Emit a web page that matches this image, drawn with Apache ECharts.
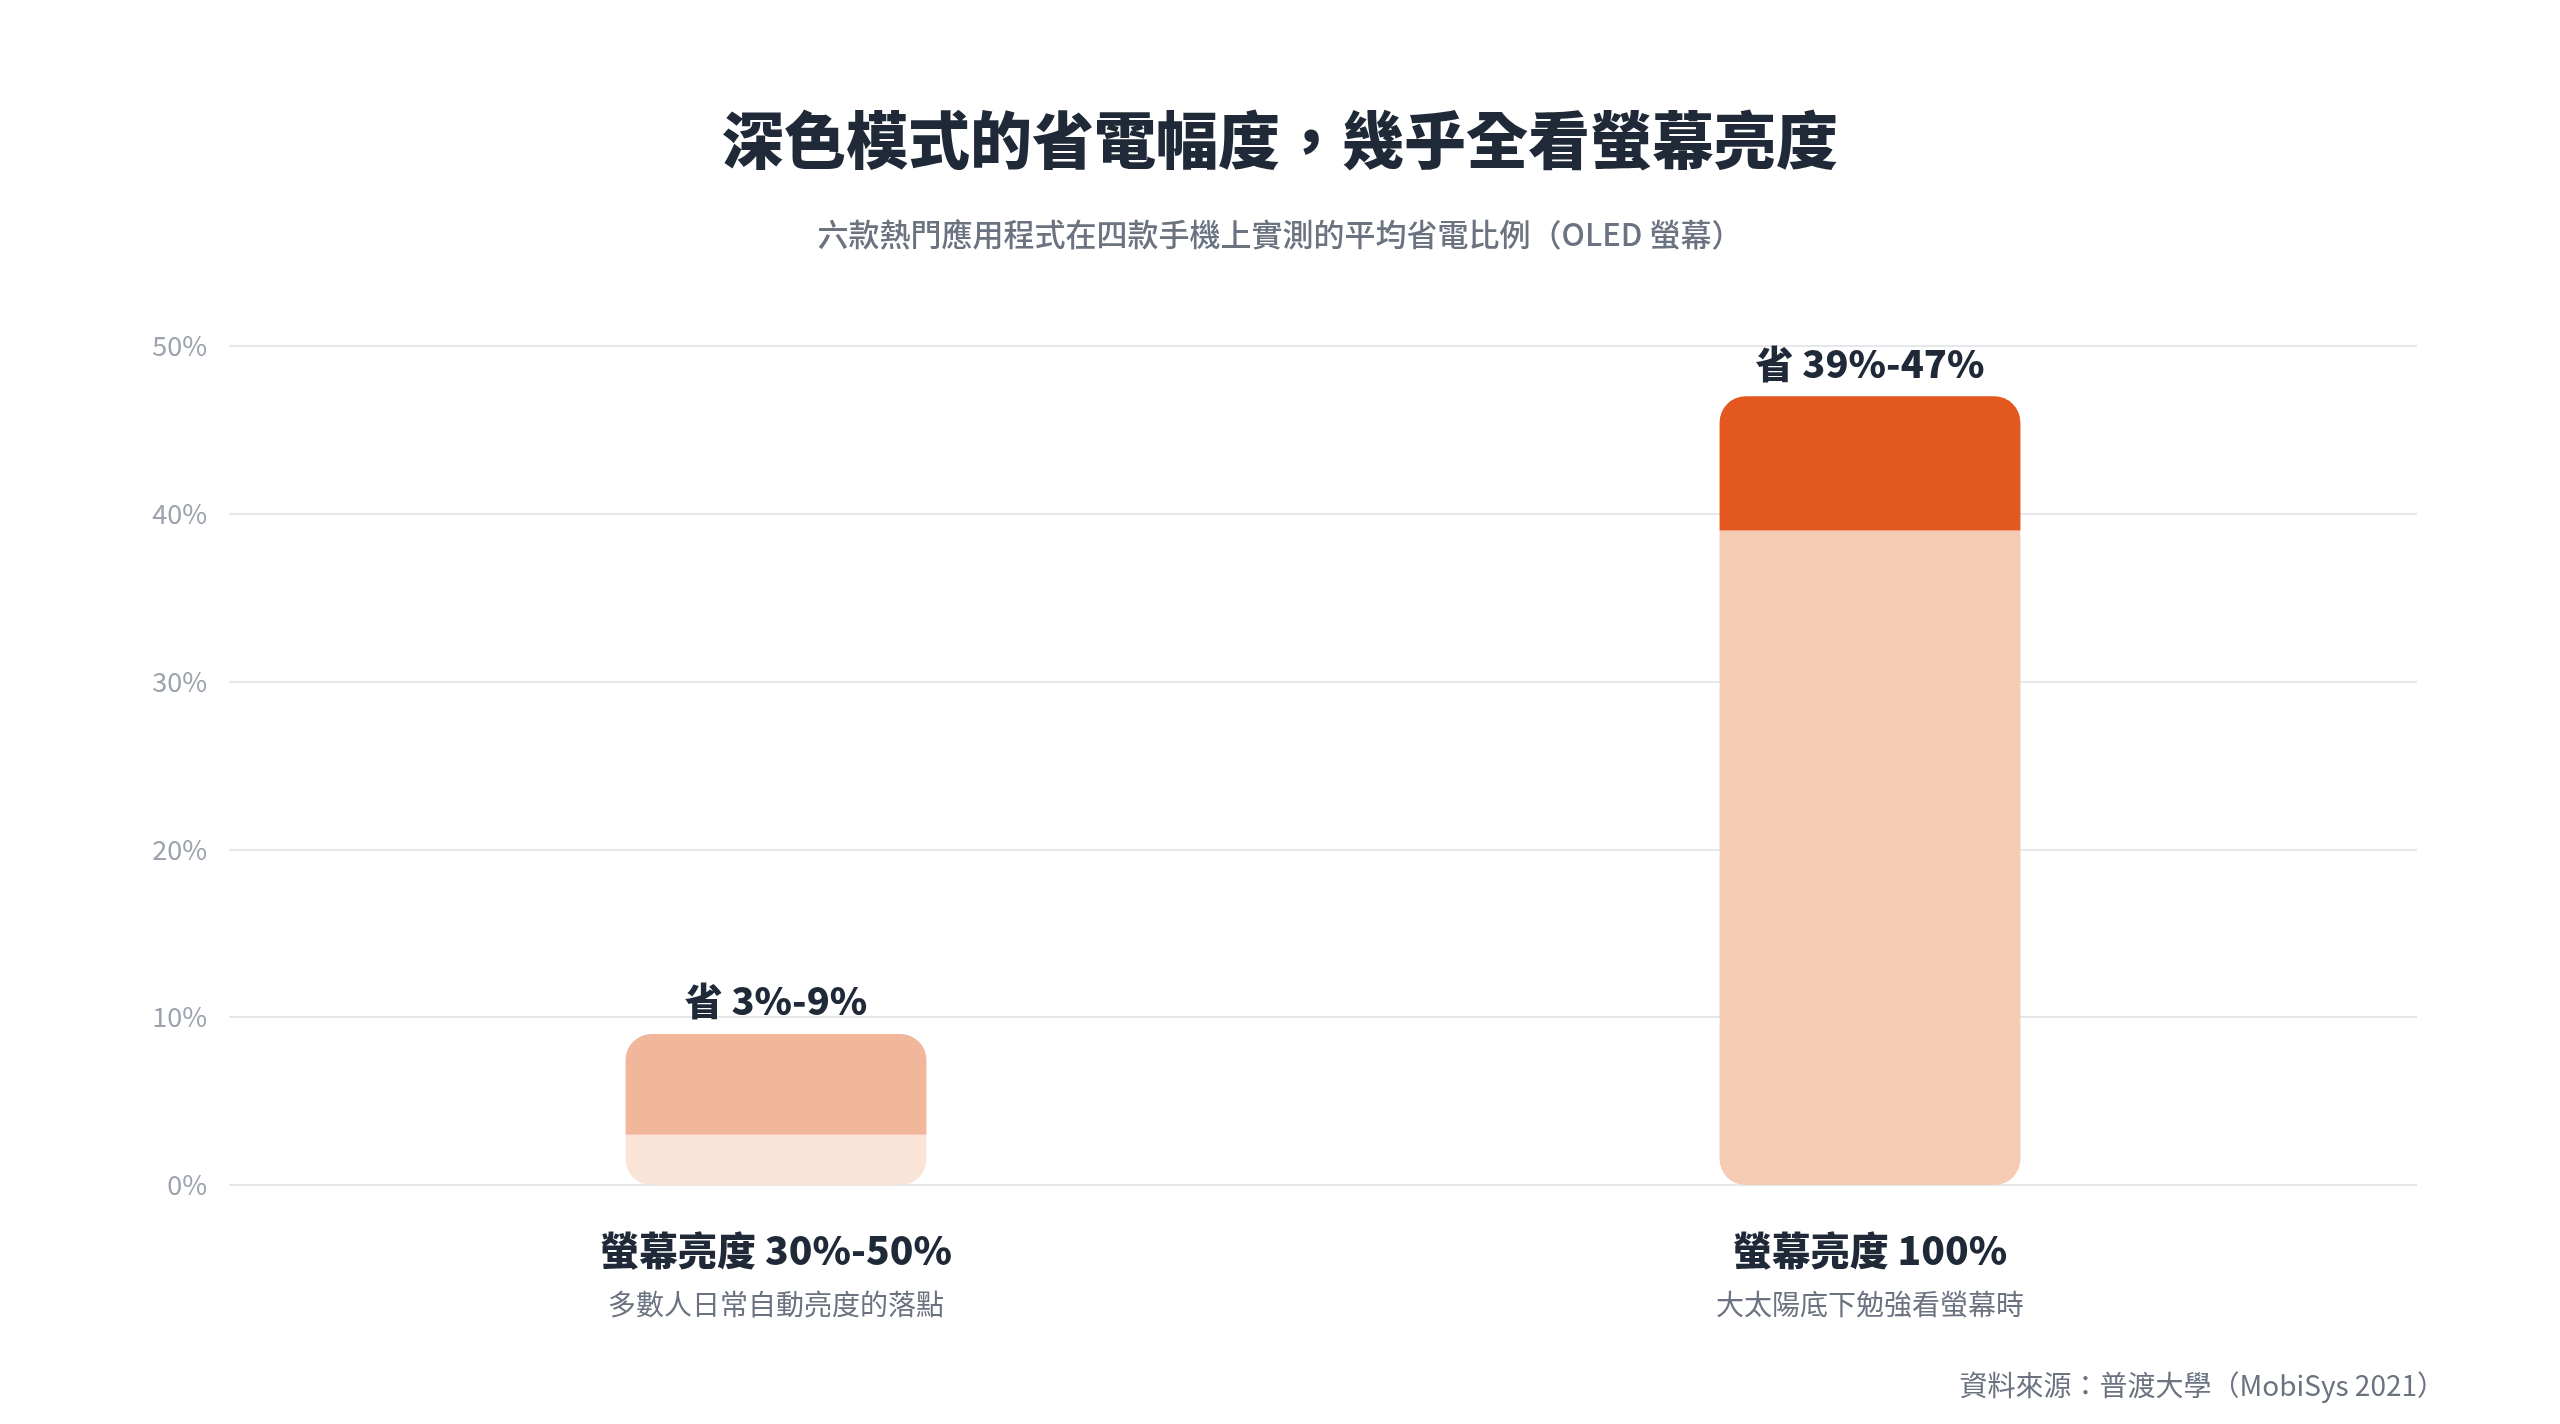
<!DOCTYPE html>
<html><head><meta charset="utf-8">
<script src="https://cdn.jsdelivr.net/npm/echarts@6/dist/echarts.min.js"></script>
<style>html,body{margin:0;background:#fff}#c{width:2560px;height:1424px}</style>
</head><body><div id="c"></div>
<script>
const categories = ['螢幕亮度 30%-50%', '螢幕亮度 100%'];
const subLabels = ['多數人日常自動亮度的落點', '大太陽底下勉強看螢幕時'];
const baseValues = [3, 39];
const savingValues = [6, 8];
const rangeLabels = ['省 3%-9%', '省 39%-47%'];
const baseColors = ['#FAE3D7', '#F5CBB4'];
const topColors = ['#F2B79B', '#E2581F'];
const yTicks = [0, 10, 20, 30, 40, 50];
const font = '"Noto Sans CJK TC", "Noto Sans", sans-serif';
const R = 26;
const chart = echarts.init(document.getElementById('c'));
chart.setOption({
  backgroundColor: '#fff',
  textStyle: { fontFamily: font },
  title: [
    { text: '深色模式的省電幅度，幾乎全看螢幕亮度', left: 'center', top: 104,
      textStyle: { fontSize: 62, fontWeight: 900, color: '#1F2937', fontFamily: font } },
    { text: '六款熱門應用程式在四款手機上實測的平均省電比例（OLED 螢幕）', left: 'center', top: 214,
      textStyle: { fontSize: 31, fontWeight: 500, color: '#6B7280', fontFamily: font } },
    { text: '資料來源：普渡大學（MobiSys 2021）', right: 110, top: 1366,
      textStyle: { fontSize: 28, fontWeight: 400, color: '#6B7280', fontFamily: font } }
  ],
  grid: { left: 229, right: 143, top: 346, bottom: 239 },
  xAxis: {
    type: 'category', data: categories,
    axisLine: { show: false }, axisTick: { show: false },
    axisLabel: {
      margin: 36,
      formatter: (v, i) => '{a|' + v + '}\n{b|' + subLabels[i] + '}',
      rich: {
        a: { fontSize: 39, fontWeight: 900, color: '#1F2937', fontFamily: font, lineHeight: 58 },
        b: { fontSize: 28, color: '#6B7280', fontFamily: font, lineHeight: 50 }
      }
    }
  },
  yAxis: {
    type: 'value', min: yTicks[0], max: yTicks[yTicks.length - 1], interval: 10,
    axisLine: { show: false }, axisTick: { show: false },
    axisLabel: { formatter: '{value}%', fontSize: 27, color: '#9CA3AF', margin: 22, fontFamily: font },
    splitLine: { lineStyle: { color: '#E5E7EB', width: 2 } }
  },
  series: [
    { type: 'bar', stack: 's', barWidth: '27.5%',
      data: baseValues.map((v, i) => ({ value: v, itemStyle: { color: baseColors[i], borderRadius: [0, 0, R, R] } })) },
    { type: 'bar', stack: 's',
      data: savingValues.map((v, i) => ({ value: v, itemStyle: { color: topColors[i], borderRadius: [R, R, 0, 0] } })),
      label: { show: true, position: 'top', distance: 14,
        formatter: p => rangeLabels[p.dataIndex],
        fontSize: 38, fontWeight: 900, color: '#1F2937', fontFamily: font } }
  ]
});
</script></body></html>
